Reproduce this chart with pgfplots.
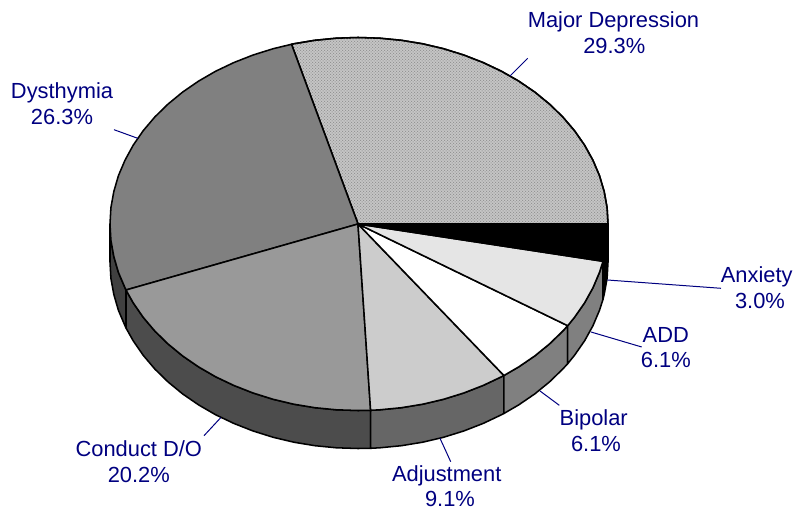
\documentclass[border=0pt]{standalone}
\usepackage{pgfplots}
\pgfplotsset{compat=1.18}
\usepackage{fontspec}
\usetikzlibrary{patterns}
\setmainfont{Liberation Sans}
\definecolor{lab}{HTML}{000080}
\definecolor{hatchbg}{gray}{0.78}
\definecolor{hatchfg}{gray}{0.58}
\pgfdeclarepatternformonly{finedots}{\pgfqpoint{-0.1pt}{-0.1pt}}{\pgfqpoint{2.35pt}{2.35pt}}{\pgfqpoint{2.25pt}{2.25pt}}{%
  \pgfpathrectangle{\pgfqpoint{0pt}{0pt}}{\pgfqpoint{0.75pt}{0.75pt}}%
  \pgfpathrectangle{\pgfqpoint{1.125pt}{1.125pt}}{\pgfqpoint{0.75pt}{0.75pt}}%
  \pgfusepath{fill}}
\newcommand{\lab}[3]{\node[anchor=base,inner sep=0pt,text=lab] at (axis cs:#1,#2) {\fontsize{16.4}{19.5}\selectfont #3};}
\tikzset{slice/.style={draw=black,line width=1.15pt,line join=round,fill=#1,mark=none},
 leader/.style={draw=lab,line width=0.75pt,mark=none}}
\begin{document}
\begin{tikzpicture}
\begin{axis}[hide axis,scale only axis,width=596.25pt,height=382.5pt,
  xmin=-358,xmax=437,ymin=-286,ymax=224,clip=false]
% side walls
\addplot[slice={gray!50!black}] coordinates {(-248,0)(-247.1,-16.3)(-244.2,-32.4)(-239.6,-48.3)(-233,-63.8)(-232,-66)(-232,-104)(-233,-101.8)(-239.6,-86.3)(-244.2,-70.4)(-247.1,-54.3)(-248,-38)(-248,0)};
\addplot[slice={black!70}] coordinates {(-232,-66)(-224.8,-78.8)(-214.8,-93.3)(-203.2,-107)(-190,-119.9)(-175.4,-131.9)(-159.4,-142.9)(-142.3,-152.8)(-124,-161.5)(-104.9,-169)(-84.8,-175.3)(-64.2,-180.2)(-43.1,-183.7)(-21.6,-185.8)(0,-186.5)(12.6,-186.3)(12.6,-224.3)(0,-224.5)(-21.6,-223.8)(-43.1,-221.7)(-64.2,-218.2)(-84.8,-213.3)(-104.9,-207)(-124,-199.5)(-142.3,-190.8)(-159.4,-180.9)(-175.4,-169.9)(-190,-157.9)(-203.2,-145)(-214.8,-131.3)(-224.8,-116.8)(-232,-104)(-232,-66)};
\addplot[slice={black!60}] coordinates {(12.6,-186.3)(21.8,-185.8)(43.4,-183.7)(64.7,-180.2)(85.5,-175.3)(105.7,-169)(125,-161.5)(143.4,-152.8)(145.9,-151.5)(145.9,-189.5)(143.4,-190.8)(125,-199.5)(105.7,-207)(85.5,-213.3)(64.7,-218.2)(43.4,-221.7)(21.8,-223.8)(12.6,-224.3)(12.6,-186.3)};
\addplot[slice={black!50}] coordinates {(145.9,-151.5)(160.7,-142.9)(176.8,-131.9)(191.5,-119.9)(204.8,-107)(209.7,-101.7)(209.7,-139.7)(204.8,-145)(191.5,-157.9)(176.8,-169.9)(160.7,-180.9)(145.9,-189.5)(145.9,-151.5)};
\addplot[slice={black!50}] coordinates {(209.7,-101.7)(216.5,-93.3)(226.6,-78.8)(234.9,-63.8)(241.5,-48.3)(245,-37.3)(245,-75.3)(241.5,-86.3)(234.9,-101.8)(226.6,-116.8)(216.5,-131.3)(209.7,-139.7)(209.7,-101.7)};
\addplot[slice=black] coordinates {(245,-37.3)(246.2,-32.4)(249.1,-16.3)(250,0)(250,-38)(249.1,-54.3)(246.2,-70.4)(245,-75.3)(245,-37.3)};
% top face
\addplot[slice=hatchbg,postaction={pattern=finedots,pattern color=hatchfg}] coordinates {(0,0)(250,0)(249.1,16.3)(246.2,32.4)(241.5,48.3)(234.9,63.8)(226.6,78.8)(216.5,93.3)(204.8,107)(191.5,119.9)(176.8,131.9)(160.7,142.9)(143.4,152.8)(125,161.5)(105.7,169)(85.5,175.3)(64.7,180.2)(43.4,183.7)(21.8,185.8)(0,186.5)(-21.6,185.8)(-43.1,183.7)(-64.2,180.2)(-66.5,179.7)(0,0)};
\addplot[slice={black!50}] coordinates {(0,0)(-66.5,179.7)(-84.8,175.3)(-104.9,169)(-124,161.5)(-142.3,152.8)(-159.4,142.9)(-175.4,131.9)(-190,119.9)(-203.2,107)(-214.8,93.3)(-224.8,78.8)(-233,63.8)(-239.6,48.3)(-244.2,32.4)(-247.1,16.3)(-248,0)(-247.1,-16.3)(-244.2,-32.4)(-239.6,-48.3)(-233,-63.8)(-232,-66)(0,0)};
\addplot[slice={black!40}] coordinates {(0,0)(-232,-66)(-224.8,-78.8)(-214.8,-93.3)(-203.2,-107)(-190,-119.9)(-175.4,-131.9)(-159.4,-142.9)(-142.3,-152.8)(-124,-161.5)(-104.9,-169)(-84.8,-175.3)(-64.2,-180.2)(-43.1,-183.7)(-21.6,-185.8)(0,-186.5)(12.6,-186.3)(0,0)};
\addplot[slice={black!20}] coordinates {(0,0)(12.6,-186.3)(21.8,-185.8)(43.4,-183.7)(64.7,-180.2)(85.5,-175.3)(105.7,-169)(125,-161.5)(143.4,-152.8)(145.9,-151.5)(0,0)};
\addplot[slice=white] coordinates {(0,0)(145.9,-151.5)(160.7,-142.9)(176.8,-131.9)(191.5,-119.9)(204.8,-107)(209.7,-101.7)(0,0)};
\addplot[slice={black!10}] coordinates {(0,0)(209.7,-101.7)(216.5,-93.3)(226.6,-78.8)(234.9,-63.8)(241.5,-48.3)(245,-37.3)(0,0)};
\addplot[slice=black] coordinates {(0,0)(245,-37.3)(246.2,-32.4)(249.1,-16.3)(250,0)(0,0)};
% leader lines
\addplot[leader] coordinates {(152,148)(169.7,165.7)};
\addplot[leader] coordinates {(249.3,-56)(363,-64.3)};
\addplot[leader] coordinates {(233,-108)(283.7,-123)};
\addplot[leader] coordinates {(182,-167)(201.3,-181.3)};
\addplot[leader] coordinates {(82,-214.3)(92.7,-237.7)};
\addplot[leader] coordinates {(-137.3,-193.7)(-154,-211.7)};
\addplot[leader] coordinates {(-220.3,85.7)(-244,94.3)};
% labels
\lab{255.5}{196.7}{Major Depression}
\lab{256.3}{170.7}{29.3\%}
\lab{-296}{125.7}{Dysthymia}
\lab{-296}{99}{26.3\%}
\lab{-219.2}{-232.7}{Conduct D/O}
\lab{-219.2}{-258.5}{20.2\%}
\lab{88.7}{-257}{Adjustment}
\lab{92}{-282}{9.1\%}
\lab{235.7}{-202}{Bipolar}
\lab{238}{-227.7}{6.1\%}
\lab{307.8}{-118.3}{ADD}
\lab{307.8}{-143.7}{6.1\%}
\lab{398.7}{-58.7}{Anxiety}
\lab{402}{-84.7}{3.0\%}
\path[use as bounding box] (axis cs:-358,-286) rectangle (axis cs:437,224);
\end{axis}
\end{tikzpicture}
\end{document}
